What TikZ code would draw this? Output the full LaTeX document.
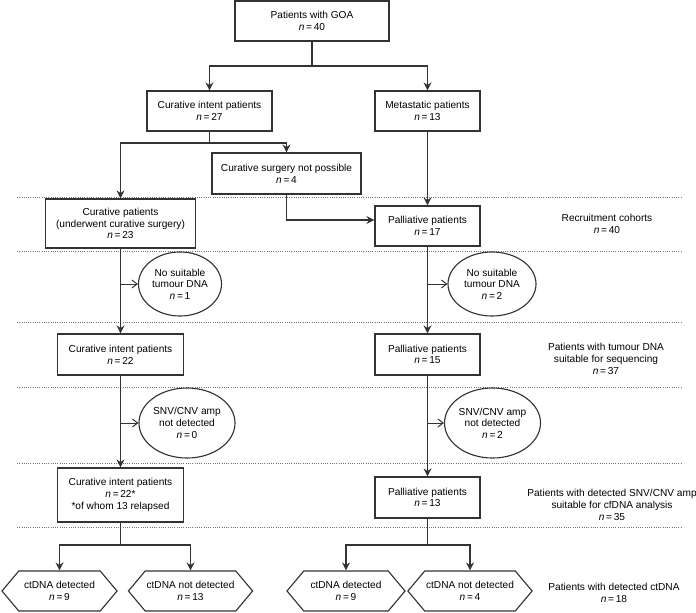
\documentclass[tikz,border=0pt]{standalone}
\usepackage{fontspec}
\setmainfont{Liberation Sans}
\usepackage{xcolor}
\usepackage{tikz}
\usetikzlibrary{arrows.meta, positioning, shapes.geometric, shapes.symbols}
\newcommand{\nval}[1]{\textit{n}\,=\,#1}

\begin{document}
\begin{tikzpicture}[x=0.025cm, y=-0.025cm, >={Stealth[length=2mm, width=2mm]},
  font=\fontsize{7.2}{8.3}\selectfont,
  box/.style={draw=black!80, fill=white, line width=0.8pt, align=center, minimum height=1cm, inner sep=1pt},
  oval/.style={draw=black!80, fill=white, line width=0.8pt, ellipse, align=center, inner sep=0pt},
  hexa/.style={draw=black!80, fill=white, line width=0.8pt, signal, signal to=west and east, signal pointer angle=100, align=center, minimum width=2.875cm, minimum height=1cm, inner sep=1pt},
  flow/.style={->, line width=0.8pt, black!80},
  link/.style={line width=0.8pt, black!80},
  side/.style={-{Straight Barb[length=1.3mm, width=2mm]}, line width=0.7pt, black!80},
  sep/.style={densely dotted, line width=0.6pt, black!55},
  cohort/.style={align=center}]
  \useasboundingbox (0,0) rectangle (696,612);
  % dotted separators
  \foreach \yy in {197,251,322,387,463,527}
    \draw[sep] (17,\yy) -- (681,\yy);
  % top of the chart
  \node[box, minimum width=3.85cm] (goa) at (312,21) {Patients with GOA\\\nval{40}};
  \node[box, minimum width=3.125cm] (curint) at (209.5,111) {Curative intent patients\\\nval{27}};
  \node[box, minimum width=2.625cm] (meta) at (427.5,111) {Metastatic patients\\\nval{13}};
  \node[box, minimum width=3.725cm, minimum height=1.025cm] (nosurg) at (286.5,173.5) {Curative surgery not possible\\\nval{4}};
  % left column
  \node[box, minimum width=3.75cm, minimum height=1.225cm] (curpat) at (120.5,223.5) {Curative patients\\(underwent curative surgery)\\\nval{23}};
  \node[oval, minimum width=2.075cm, minimum height=1.6cm] (ell1) at (180,284) {No suitable\\tumour DNA\\\nval{1}};
  \node[box, minimum width=3.15cm, minimum height=1.025cm] (cur22) at (120.5,354.5) {Curative intent patients\\\nval{22}};
  \node[oval, minimum width=2.4cm, minimum height=1.75cm] (ell3) at (187,423) {SNV/CNV amp\\not detected\\\nval{0}};
  \node[box, minimum width=3.15cm, minimum height=1.35cm] (cur22b) at (120.5,495) {Curative intent patients\\\nval{22*}\\*of whom 13 relapsed};
  \node[hexa] (hex1) at (59.5,591) {ctDNA detected\\\nval{9}};
  \node[hexa] (hex2) at (190.5,591) {ctDNA not detected\\\nval{13}};
  % right column
  \node[box, minimum width=2.625cm] (pal17) at (427.5,226) {Palliative patients\\\nval{17}};
  \node[oval, minimum width=2.2cm, minimum height=1.6cm] (ell2) at (492,284) {No suitable\\tumour DNA\\\nval{2}};
  \node[box, minimum width=2.625cm, minimum height=1.025cm] (pal15) at (427.5,354.5) {Palliative patients\\\nval{15}};
  \node[oval, minimum width=2.4cm, minimum height=1.75cm] (ell4) at (492.5,423) {SNV/CNV amp\\not detected\\\nval{2}};
  \node[box, minimum width=2.625cm, minimum height=1.025cm] (pal13) at (427.5,497.5) {Palliative patients\\\nval{13}};
  \node[hexa, minimum width=2.95cm] (hex3) at (346,591) {ctDNA detected\\\nval{9}};
  \node[hexa, minimum width=2.9cm] (hex4) at (470,591) {ctDNA not detected\\\nval{4}};
  % cohort labels
  \node[cohort] (lab1) at (607,224) {Recruitment cohorts\\\nval{40}};
  \node[cohort] (lab2) at (606,359) {Patients with tumour DNA\\suitable for sequencing\\\nval{37}};
  \node[cohort] (lab3) at (612,505) {Patients with detected SNV/CNV amp\\suitable for cfDNA analysis\\\nval{35}};
  \node[cohort] (lab4) at (614,593) {Patients with detected ctDNA\\\nval{18}};
  % splits
  \coordinate (s1) at (312,66);
  \coordinate (s2) at (209.5,143);
  \coordinate (s3) at (120.5,545);
  \coordinate (s4) at (427.5,545);
  \draw[link] (goa) -- (s1);
  \draw[flow] (s1) -| (curint);
  \draw[flow] (s1) -| (meta);
  \draw[link] (curint) -- (s2);
  \draw[flow] (s2) -| (curpat);
  \draw[flow] (s2) -| (nosurg);
  \draw[flow] (nosurg) |- ([yshift=0.15cm]pal17.west);
  \draw[flow] (meta) -- (pal17);
  % down the columns
  \draw[flow] (curpat) -- (cur22);
  \draw[side] (curpat.south |- ell1) -- (ell1);
  \draw[flow] (cur22) -- (cur22b);
  \draw[side] (cur22.south |- ell3) -- (ell3);
  \draw[flow] (pal17) -- (pal15);
  \draw[side] (pal17.south |- ell2) -- (ell2);
  \draw[flow] (pal15) -- (pal13);
  \draw[side] (pal15.south |- ell4) -- (ell4);
  % ctDNA split
  \draw[link] (cur22b) -- (s3);
  \draw[flow] (s3) -| (hex1);
  \draw[flow] (s3) -| (hex2);
  \draw[link] (pal13) -- (s4);
  \draw[flow] (s4) -| (hex3);
  \draw[flow] (s4) -| (hex4);
\end{tikzpicture}
\end{document}
